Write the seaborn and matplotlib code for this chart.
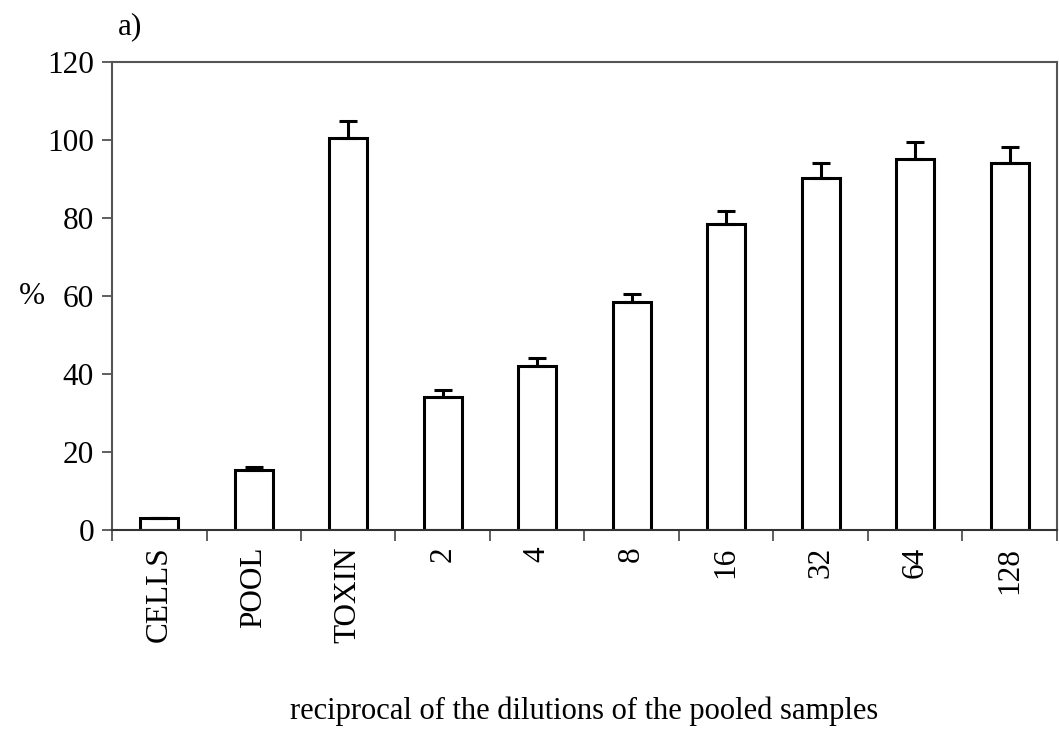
import matplotlib
matplotlib.use("Agg")
import matplotlib.pyplot as plt
import seaborn as sns
import pandas as pd
import numpy as np

categories = ["CELLS", "POOL", "TOXIN", "2", "4", "8", "16", "32", "64", "128"]
values = [3.0, 15.4, 100.4, 34.0, 42.1, 58.4, 78.5, 90.2, 95.1, 94.1]
errors = [0.0, 0.8, 4.4, 2.0, 1.9, 2.1, 3.2, 3.9, 4.3, 4.1]
yticks = [0, 20, 40, 60, 80, 100, 120]

sns.set_theme(style="white")
plt.rcParams["font.family"] = ["Liberation Serif", "DejaVu Serif"]
plt.rcParams["text.color"] = "black"
plt.rcParams["axes.labelcolor"] = "black"
plt.rcParams["xtick.color"] = "black"
plt.rcParams["ytick.color"] = "black"

df = pd.DataFrame({"cat": categories, "val": values})

fs = 22.5

fig = plt.figure(figsize=(10.59, 7.30), dpi=100)
ax = fig.add_axes([0.1058, 0.274, 0.8922, 0.641])

sns.barplot(data=df, x="cat", y="val", order=categories, color="white",
            edgecolor="black", linewidth=2.2, width=0.4, errorbar=None, ax=ax,
            saturation=1)

xs = np.arange(len(categories))
ax.errorbar(xs, values, yerr=[np.zeros(len(errors)), errors], fmt="none",
            ecolor="black", elinewidth=2.2, capsize=6.5, capthick=2.2, zorder=3)

ax.set_ylim(0, 120)
ax.set_xlim(-0.5, len(categories) - 0.5)
ax.set_yticks(yticks)
ax.set_yticklabels([str(t) for t in yticks], fontsize=fs, color="black")

ax.set_xticks(xs)
ax.set_xticklabels(categories, rotation=90, fontsize=fs, va="top", color="black")
ax.tick_params(axis="x", which="major", length=0, pad=12)
ax.set_xticks(np.arange(-0.5, len(categories) + 0.5, 1), minor=True)
ax.tick_params(axis="x", which="minor", length=8, width=1.2, color="#444444", direction="out", bottom=True)
ax.tick_params(axis="y", which="major", length=7, width=1.2, color="#444444", direction="out", left=True, pad=6)

for side in ["left", "right", "top", "bottom"]:
    ax.spines[side].set_visible(True)
    ax.spines[side].set_color("#555555")
    ax.spines[side].set_linewidth(1.5)
ax.spines["bottom"].set_color("#333333")

ax.set_xlabel("reciprocal of the dilutions of the pooled samples", fontsize=22, va="center", color="black")
ax.xaxis.set_label_coords(0.5, -0.387)
ax.set_ylabel("%", rotation=0, fontsize=fs, va="center", ha="center", color="black")
ax.yaxis.set_label_coords(-0.085, 0.5)

fig.text(0.1115, 0.963, "a)", fontsize=fs, ha="left", va="center", color="black")

fig.savefig("out.png", dpi=100, facecolor="white")
